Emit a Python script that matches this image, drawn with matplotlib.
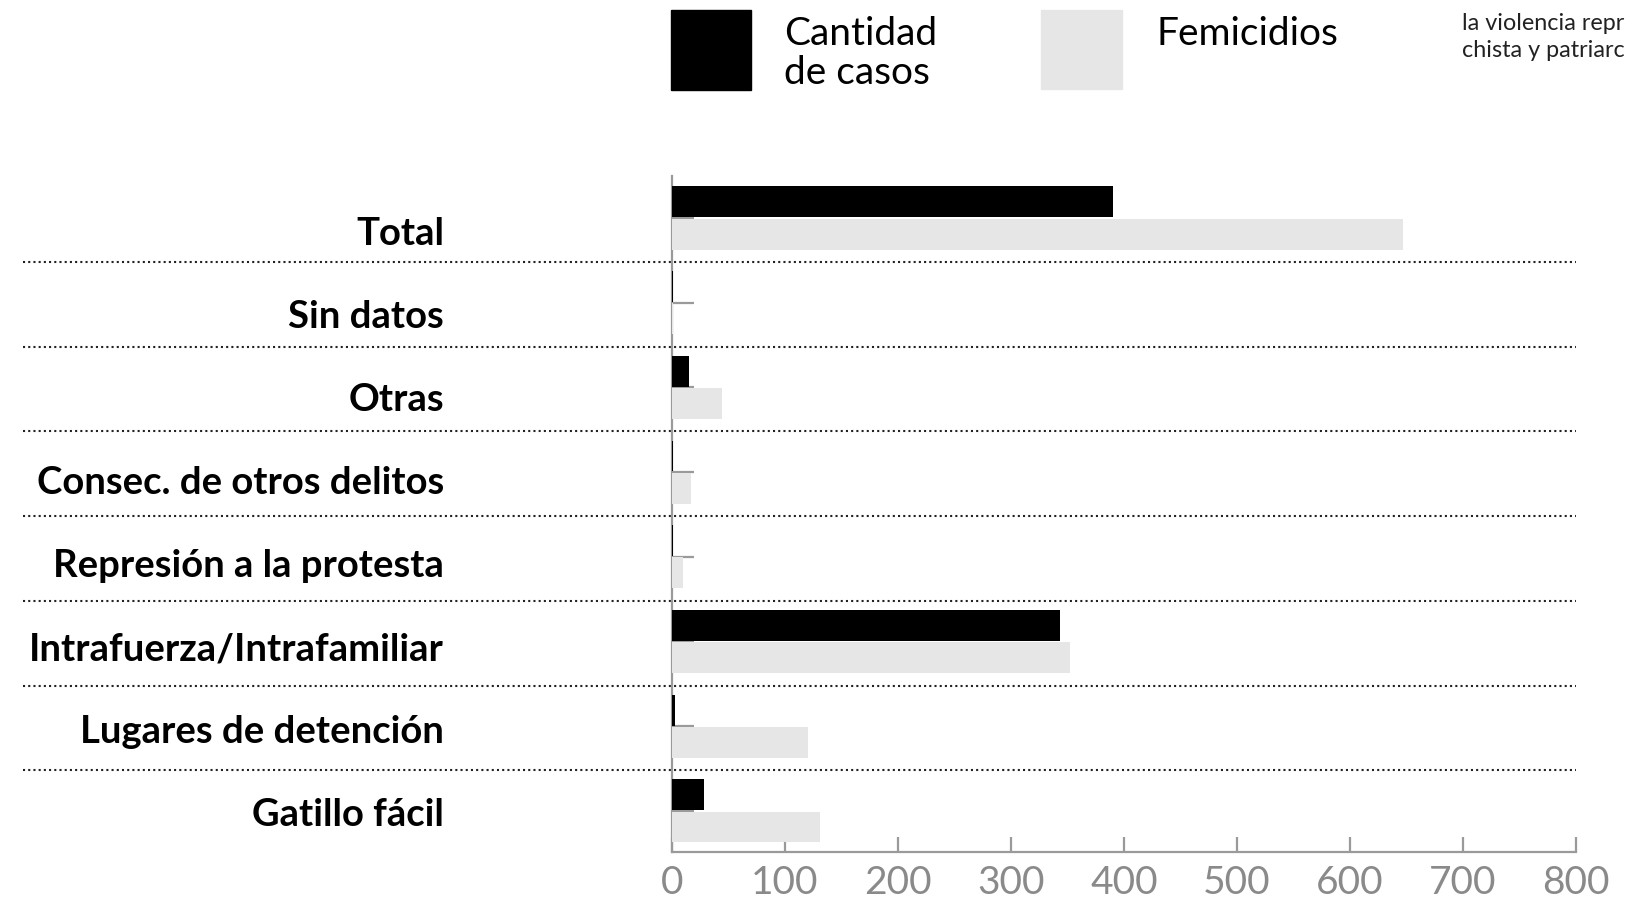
import matplotlib
matplotlib.use("Agg")
import matplotlib.pyplot as plt
from matplotlib.transforms import ScaledTranslation
from matplotlib.patches import Rectangle
import numpy as np

plt.rcParams['font.family'] = ['Lato', 'DejaVu Sans']

categories = ["Total", "Sin datos", "Otras", "Consec. de otros delitos",
              "Represión a la protesta", "Intrafuerza/Intrafamiliar",
              "Lugares de detención", "Gatillo fácil"]
casos = [390, 1, 15, 1, 1, 343, 3, 28]
femicidios = [647, 1, 44, 17, 10, 352, 120, 131]
xticks = [0, 100, 200, 300, 400, 500, 600, 700, 800]

W, H = 1628, 901
fig = plt.figure(figsize=(W / 100, H / 100), dpi=100)
ax = fig.add_axes([672 / W, 1 - 852 / H, (1576 - 672) / W, (852 - 176) / H])

y = np.arange(len(categories))
bh = 0.365
GRAY = "#e6e6e6"
AX = "#9a9a9a"
ax.barh(y - 0.19, casos, height=bh, color="black", zorder=3)
ax.barh(y + 0.19, femicidios, height=bh, color=GRAY, zorder=3)

ax.set_xlim(0, 800)
ax.set_ylim(7.485, -0.496)
ax.set_xticks(xticks)
ax.set_xticklabels([str(t) for t in xticks])
ax.set_yticks(y)
ax.set_yticklabels(categories)

for s in ["top", "right"]:
    ax.spines[s].set_visible(False)
for s in ["left", "bottom"]:
    ax.spines[s].set_color(AX)
    ax.spines[s].set_linewidth(1.6)
    ax.spines[s].set_zorder(2)

ax.tick_params(axis="x", direction="in", length=11, width=1.6, color=AX,
               labelsize=28, labelcolor="#8a8a8a", pad=9.5)
ax.tick_params(axis="y", direction="in", length=16, width=1.6, color=AX,
               labelsize=27.5, labelcolor="black", pad=164)
for i, lab in enumerate(ax.get_yticklabels()):
    lab.set_fontweight("bold")
    off = ScaledTranslation(0, -(12.5 - 1.6 * i) / 100, fig.dpi_scale_trans)
    lab.set_transform(lab.get_transform() + off)
for t in ax.yaxis.get_major_ticks():
    t.tick1line.set_zorder(4)

# dotted separators
for i in range(len(categories) - 1):
    yy = i + 0.52
    ax.plot([-(672 - 23) / 904 * 800, 800], [yy, yy], color="#222222",
            linestyle=(0, (1, 1.5)), linewidth=1.5, clip_on=False, zorder=1)

# legend
fig.patches.append(Rectangle((671 / W, 1 - 90 / H), 80 / W, 80 / H,
                             transform=fig.transFigure, color="black"))
fig.patches.append(Rectangle((1041 / W, 1 - 89 / H), 81 / W, 79 / H,
                             transform=fig.transFigure, color=GRAY))
fig.text(784 / W, 1 - 34 / H, "Cantidad", fontsize=28, va="center", ha="left")
fig.text(784 / W, 1 - 73 / H, "de casos", fontsize=28, va="center", ha="left")
fig.text(1156 / W, 1 - 34 / H, "Femicidios", fontsize=28, va="center", ha="left")

fig.text(1462 / W, 1 - 30 / H, "la violencia repr", fontsize=16.8,
         va="baseline", ha="left", color="#222222")
fig.text(1462 / W, 1 - 57 / H, "chista y patriarc", fontsize=16.8,
         va="baseline", ha="left", color="#222222")

fig.savefig("out.png", dpi=100)
